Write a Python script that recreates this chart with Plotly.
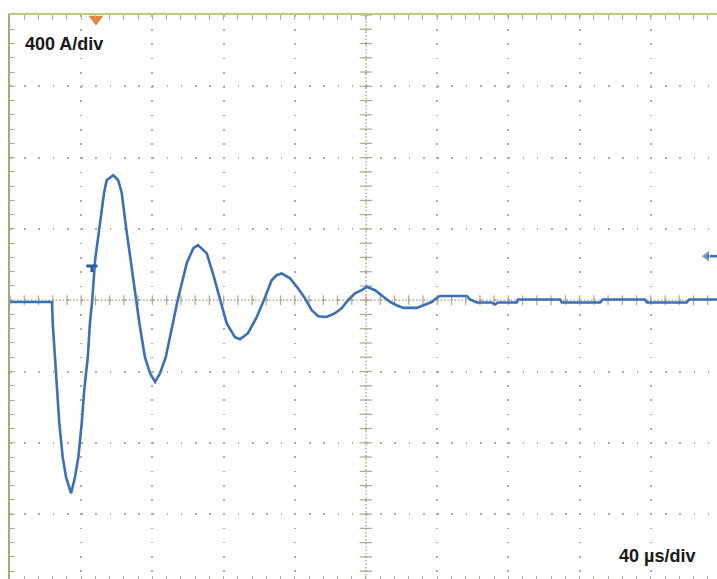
import plotly.graph_objects as go

# ---- data (time in µs from left edge of screen, current in A) ----
time_us = [0, 23.6, 24.0, 25.3, 26.2, 27.7, 29.6, 31.5, 34.3, 36.5, 38.4, 40.3, 41.7, 43.7, 44.9,
           46.2, 47.8, 50.2, 52.8, 54.3, 58.0, 60.8, 62.8, 65.2, 67.8, 70.8, 72.7, 75.8, 78.7, 81.5,
           84.3, 87.5, 91.7, 94.2, 99.3, 103.0, 105.6, 110.5, 114.0, 118.0, 121.7, 126.4, 129.2, 133.7,
           138.6, 143.3, 147.0, 149.8, 152.6, 157.3, 161.8, 165.7, 169.5, 173.2, 177.9, 182.6, 186.3,
           189.9, 193.8, 197.6, 200.4, 205.1, 208.8, 213.5, 217.2, 221.0, 228.5, 232.2, 236.9, 240.6,
           241.6, 256.6, 258.4, 262.2, 270.6, 272.5, 274.2, 284.7, 285.4, 309.0, 310.0, 331.5, 333.0,
           356.7, 357.9, 380.2, 381.5, 397.2]
current_a = [-10, -10, -129, -320, -505, -690, -881, -993, -1083, -993, -881, -690, -505, -320, -129,
             0, 224, 410, 600, 673, 701, 673, 600, 410, 224, 0, -129, -320, -410, -458,
             -410, -320, -129, 0, 208, 292, 309, 264, 151, 0, -129, -208, -219, -185,
             -95, 17, 112, 140, 150, 123, 67, 11, -56, -90, -94, -73, -45,
             0, 39, 56, 75, 56, 28, -10, -28, -43, -43, -28, -10, 19,
             24, 24, 4, -13, -13, -24, -13, -13, 4, 4, -13, -13, 4,
             4, -13, -13, 4, 4]

amps_per_div_label = "400 A/div"
time_per_div_label = "40 µs/div"
a_per_div = 400
us_per_div = 40
trigger_time = 48.3
trigger_level = 180
ref_marker_level = 247
ref_marker_time = [391.5, 397.2]

x_range = [0, 397.2]
y_range = [-1564, 1600]

wave_color = "#3b6fb6"
grid_color = "#b4ac94"
top_border = "#b9c986"
left_border = "#a9a57a"

x_major = [us_per_div * k for k in range(0, 10)]
y_major = [a_per_div * k for k in range(-3, 5)]
x_minor = [us_per_div / 5 * k for k in range(0, 50)]
y_minor = [a_per_div / 5 * k for k in range(-19, 21)]
center_t = 5 * us_per_div

fig = go.Figure()

# center-line tick marks
fig.add_trace(go.Scatter(x=x_minor, y=[0] * len(x_minor), mode="markers",
                         marker=dict(symbol="line-ns", size=7, line=dict(color=grid_color, width=1.3)),
                         hoverinfo="skip", showlegend=False))
fig.add_trace(go.Scatter(x=[center_t] * len(y_minor), y=y_minor, mode="markers",
                         marker=dict(symbol="line-ew", size=9, line=dict(color=grid_color, width=1.3)),
                         hoverinfo="skip", showlegend=False))

# waveform
fig.add_trace(go.Scatter(x=time_us, y=current_a, mode="lines",
                         line=dict(color=wave_color, width=2.6), showlegend=False,
                         hoverinfo="skip"))

# trigger position marker (top, orange)
fig.add_trace(go.Scatter(x=[trigger_time], y=[y_range[1] - 22], mode="markers",
                         marker=dict(symbol="triangle-down", size=13, color="#e8843a"),
                         cliponaxis=False, showlegend=False, hoverinfo="skip"))
# trigger level marker "T"
fig.add_trace(go.Scatter(x=[trigger_time - 2.3], y=[trigger_level + 12], mode="markers",
                         marker=dict(symbol="line-ew", size=8, line=dict(color="#2c5d9c", width=3)),
                         showlegend=False, hoverinfo="skip"))
fig.add_trace(go.Scatter(x=[trigger_time - 2.3] * 2, y=[trigger_level + 12, trigger_level - 22],
                         mode="lines", line=dict(color="#2c5d9c", width=3),
                         showlegend=False, hoverinfo="skip"))
# ground reference marker at left
fig.add_trace(go.Scatter(x=[-0.8], y=[0], mode="markers",
                         marker=dict(symbol="line-ns", size=11, line=dict(color=wave_color, width=3)),
                         cliponaxis=False, showlegend=False, hoverinfo="skip"))
# right-side reference arrow
fig.add_trace(go.Scatter(x=ref_marker_time, y=[ref_marker_level] * 2, mode="lines+markers",
                         line=dict(color=wave_color, width=2.6),
                         marker=dict(symbol=["triangle-left", "circle"], size=[11, 0], color=wave_color),
                         cliponaxis=False, showlegend=False, hoverinfo="skip"))

# dense center lines
fig.add_shape(type="line", xref="paper", x0=0, x1=1, yref="y", y0=0, y1=0,
              line=dict(color=grid_color, width=1.5, dash="1.5px,2px"), layer="below")
fig.add_shape(type="line", yref="paper", y0=0, y1=1, xref="x", x0=center_t, x1=center_t,
              line=dict(color=grid_color, width=1.5, dash="1.5px,2px"), layer="below")

fig.add_annotation(text="<b>%s</b>" % amps_per_div_label, xref="paper", yref="paper",
                   x=0.018, y=0.9486, xanchor="left", yanchor="middle", showarrow=False,
                   font=dict(family="Liberation Sans, Arial", size=18, color="#1a1a1a"))
fig.add_annotation(text="<b>%s</b>" % time_per_div_label, xref="paper", yref="paper",
                   x=0.858, y=0.040, xanchor="left", yanchor="middle", showarrow=False,
                   font=dict(family="Liberation Sans, Arial", size=18, color="#1a1a1a"))

fig.update_layout(
    width=717, height=579,
    margin=dict(l=10, r=0, t=15, b=0, pad=0),
    paper_bgcolor="white", plot_bgcolor="white",
    xaxis=dict(range=x_range, tickvals=x_major, showticklabels=False, side="top", automargin=False,
               showgrid=True, gridcolor=grid_color, gridwidth=1.6, griddash="1.6px,12.64px",
               zeroline=False, showline=True, linecolor=top_border, linewidth=2,
               ticks="inside", ticklen=5, tickcolor=grid_color, tickwidth=1.2,
               minor=dict(dtick=us_per_div / 5, ticks="inside", ticklen=5, tickcolor=grid_color,
                          tickwidth=1.2, showgrid=False)),
    yaxis=dict(range=y_range, tickvals=y_major, showticklabels=False, automargin=False,
               showgrid=True, gridcolor=grid_color, gridwidth=1.6, griddash="1.6px,12.64px",
               zeroline=False, showline=True, linecolor=left_border, linewidth=2,
               ticks="inside", ticklen=5, tickcolor=grid_color, tickwidth=1.2,
               minor=dict(dtick=a_per_div / 5, ticks="inside", ticklen=5, tickcolor=grid_color,
                          tickwidth=1.2, showgrid=False)),
    xaxis2=dict(range=x_range, overlaying="x", side="bottom", anchor="y", showticklabels=False,
                automargin=False,
                showgrid=False, zeroline=False, tickvals=x_major, ticks="inside", ticklen=3,
                tickcolor=grid_color, tickwidth=1.2,
                minor=dict(dtick=us_per_div / 5, ticks="inside", ticklen=3, tickcolor=grid_color,
                           tickwidth=1.2, showgrid=False)),
)
fig.add_trace(go.Scatter(x=[None], y=[None], xaxis="x2", showlegend=False, hoverinfo="skip"))

fig.write_html("out.html", config={"displayModeBar": False},
               post_script="document.body.style.margin='0px';document.body.style.overflow='hidden';")
